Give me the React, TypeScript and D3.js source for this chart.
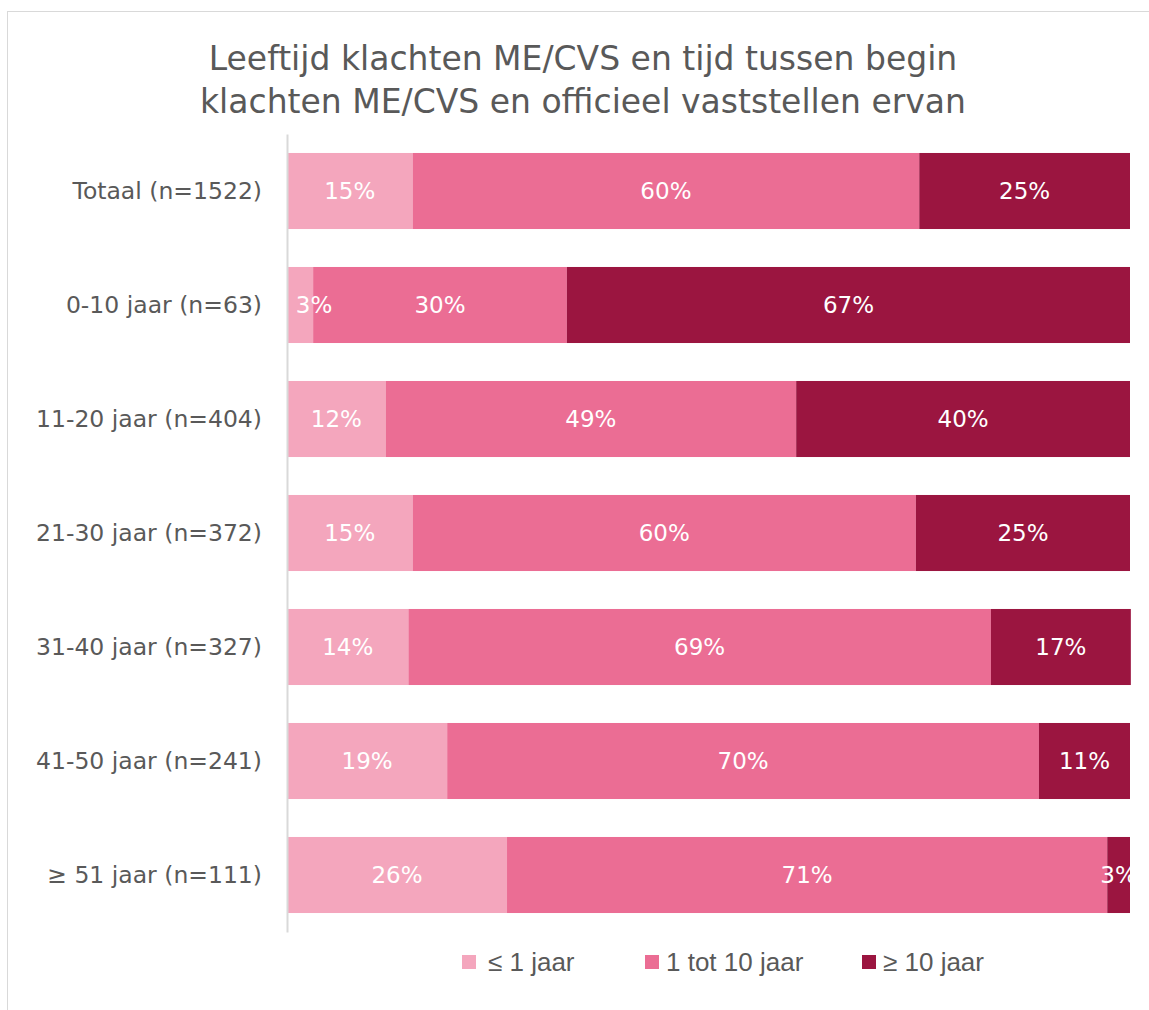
import React, { useEffect, useRef } from "react";
import * as d3 from "d3";

const categories = [
  "Totaal (n=1522)",
  "0-10 jaar (n=63)",
  "11-20 jaar (n=404)",
  "21-30 jaar (n=372)",
  "31-40 jaar (n=327)",
  "41-50 jaar (n=241)",
  "≥ 51 jaar (n=111)",
];
const seriesNames = ["≤ 1 jaar", "1 tot 10 jaar", "≥ 10 jaar"];
const upTo1 = [14.9, 3.1, 11.7, 14.9, 14.4, 19.0, 26.1];
const from1to10 = [60.1, 30.1, 48.7, 59.7, 69.1, 70.2, 71.2];
const over10 = [25.0, 66.8, 39.6, 25.4, 16.6, 10.8, 2.7];
const colors = ["#F4A6BD", "#EB6D94", "#9B1540"];

const App = () => {
  const ref = useRef<SVGSVGElement>(null);

  useEffect(() => {
    document.body.style.margin = "0";
    drawChart();
  }, []);

  const drawChart = () => {
    const width = 1149;
    const height = 1010;
    const margin = { top: 134, right: 19, bottom: 78, left: 287 };

    const svg = d3.select(ref.current);
    svg.selectAll("*").remove();
    svg.attr("width", width).attr("height", height);

    // outer chart frame (cropped at right and bottom)
    svg
      .append("rect")
      .attr("x", 7.5)
      .attr("y", 11.5)
      .attr("width", 1300)
      .attr("height", 1300)
      .attr("fill", "#fff")
      .attr("stroke", "#d9d9d9");

    // title
    const title = svg
      .append("text")
      .attr("text-anchor", "middle")
      .attr("fill", "#595959")
      .style("font-family", "DejaVu Sans")
      .style("font-size", "33px");
    title.append("tspan").attr("x", 583).attr("y", 70).text("Leeftijd klachten ME/CVS en tijd tussen begin");
    title.append("tspan").attr("x", 583).attr("y", 113).text("klachten ME/CVS en officieel vaststellen ervan");

    const innerW = width - margin.left - margin.right;
    const innerH = height - margin.top - margin.bottom;

    const g = svg.append("g").attr("transform", `translate(${margin.left},${margin.top})`);

    const x = d3.scaleLinear().domain([0, 100]).range([0, innerW]);
    const y = d3.scaleBand().domain(categories).range([0, innerH]).paddingInner(0.333).paddingOuter(0.1665);

    const rows = categories.map((c, i) => ({
      category: c,
      s0: upTo1[i],
      s1: from1to10[i],
      s2: over10[i],
    }));
    const stacked = d3.stack<any>().keys(["s0", "s1", "s2"])(rows);

    stacked.forEach((layer, li) => {
      const lg = g.append("g").attr("fill", colors[li]);
      lg.selectAll("rect")
        .data(layer)
        .join("rect")
        .attr("x", (d) => x(d[0]))
        .attr("y", (d) => y(d.data.category)!)
        .attr("width", (d) => x(d[1]) - x(d[0]))
        .attr("height", y.bandwidth());
    });

    // value labels, kept clear of the axis line
    const labels = g.append("g");
    stacked.forEach((layer) => {
      labels
        .selectAll(null)
        .data(layer)
        .join("text")
        .attr("x", (d) => {
          const c = (x(d[0]) + x(d[1])) / 2;
          return d[0] === 0 ? Math.max(c, 27) : c;
        })
        .attr("y", (d) => y(d.data.category)! + y.bandwidth() / 2)
        .attr("dy", "0.35em")
        .attr("text-anchor", "middle")
        .attr("fill", "#fff")
        .style("font-family", "DejaVu Sans")
        .style("font-size", "23px")
        .text((d) => `${Math.round(d[1] - d[0])}%`);
    });

    // category axis
    const yAxis = g.append("g").call(d3.axisLeft(y).tickSize(0).tickPadding(25));
    yAxis.select(".domain").attr("stroke", "#d9d9d9").attr("stroke-width", 2);
    yAxis
      .selectAll("text")
      .attr("fill", "#595959")
      .style("font-family", "DejaVu Sans")
      .style("font-size", "23.5px");

    // legend
    const legendX = [462, 645, 862];
    const legend = svg.append("g");
    seriesNames.forEach((name, i) => {
      legend
        .append("rect")
        .attr("x", legendX[i])
        .attr("y", 955)
        .attr("width", 14)
        .attr("height", 14)
        .attr("fill", colors[i]);
      legend
        .append("text")
        .attr("x", legendX[i] + (i === 0 ? 26 : 21))
        .attr("y", 962)
        .attr("dy", "0.35em")
        .attr("fill", "#595959")
        .style("font-family", "Liberation Sans")
        .style("font-size", "26px")
        .text(name);
    });
  };

  return <svg ref={ref} style={{ display: "block" }}></svg>;
};

export default App;
